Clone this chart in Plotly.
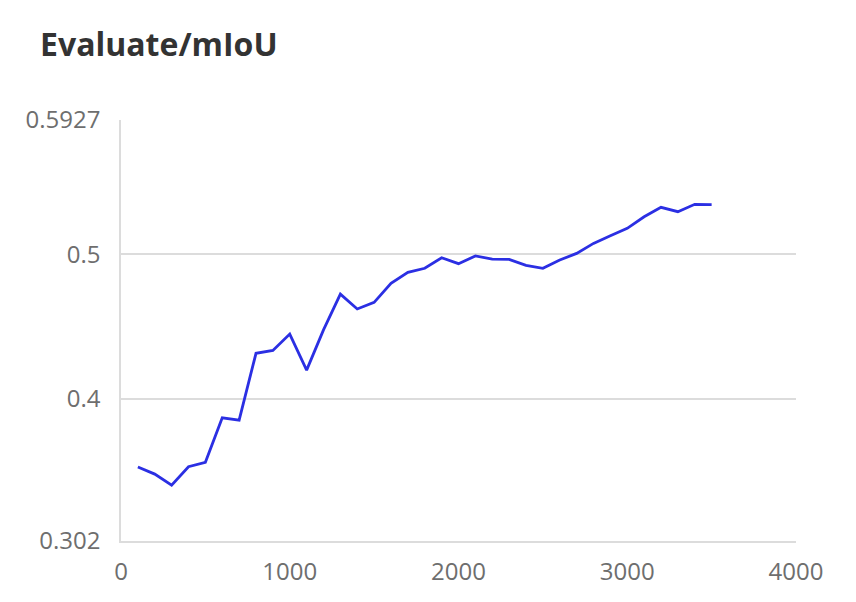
import plotly.graph_objects as go

steps = [100, 200, 300, 400, 500, 600, 700, 800, 900, 1000,
         1100, 1200, 1300, 1400, 1500, 1600, 1700, 1800, 1900, 2000,
         2100, 2200, 2300, 2400, 2500, 2600, 2700, 2800, 2900, 3000,
         3100, 3200, 3300, 3400, 3500]
miou = [0.3531, 0.3482, 0.3406, 0.3533, 0.3563, 0.3871, 0.3855, 0.4316, 0.4336, 0.4449,
        0.4200, 0.4478, 0.4725, 0.4622, 0.4668, 0.4799, 0.4875, 0.4903, 0.4976, 0.4935,
        0.4988, 0.4967, 0.4965, 0.4923, 0.4903, 0.4960, 0.5006, 0.5075, 0.5128, 0.5179,
        0.5259, 0.5324, 0.5294, 0.5345, 0.5343]

y_ticks = [0.302, 0.4, 0.5, 0.5927]
y_tick_labels = ["0.302", "0.4", "0.5", "0.5927"]
x_ticks = [0, 1000, 2000, 3000, 4000]

fig = go.Figure()
fig.add_trace(go.Scatter(x=steps, y=miou, mode="lines",
                         line=dict(color="#2b2fe3", width=2.8),
                         showlegend=False))

font_family = "Open Sans, Noto Sans, sans-serif"
fig.update_layout(
    width=856, height=602,
    paper_bgcolor="white", plot_bgcolor="white",
    margin=dict(l=113, r=68, t=112, b=69),
    title=dict(text="<b>Evaluate/mIoU</b>", x=32/856, xanchor="left",
               y=1-37/602, yanchor="middle",
               font=dict(family=font_family, size=32, color="#333333")),
    font=dict(family=font_family, size=24, color="#6e6e6e"),
    xaxis=dict(range=[0, 4000], tickvals=x_ticks, showgrid=False,
               zeroline=False, showline=True, linecolor="#dcdcdc", linewidth=1.5,
               ticks="", ticklabelstandoff=8,
               tickfont=dict(size=24, color="#6e6e6e")),
    yaxis=dict(range=[0.302, 0.5927], tickvals=y_ticks, ticktext=y_tick_labels,
               showgrid=True, gridcolor="#dcdcdc", gridwidth=1.5,
               zeroline=False, showline=True, linecolor="#dcdcdc", linewidth=1.5,
               ticks="", ticklabelstandoff=14,
               tickfont=dict(size=24, color="#6e6e6e")),
)
fig.write_html("out.html")
